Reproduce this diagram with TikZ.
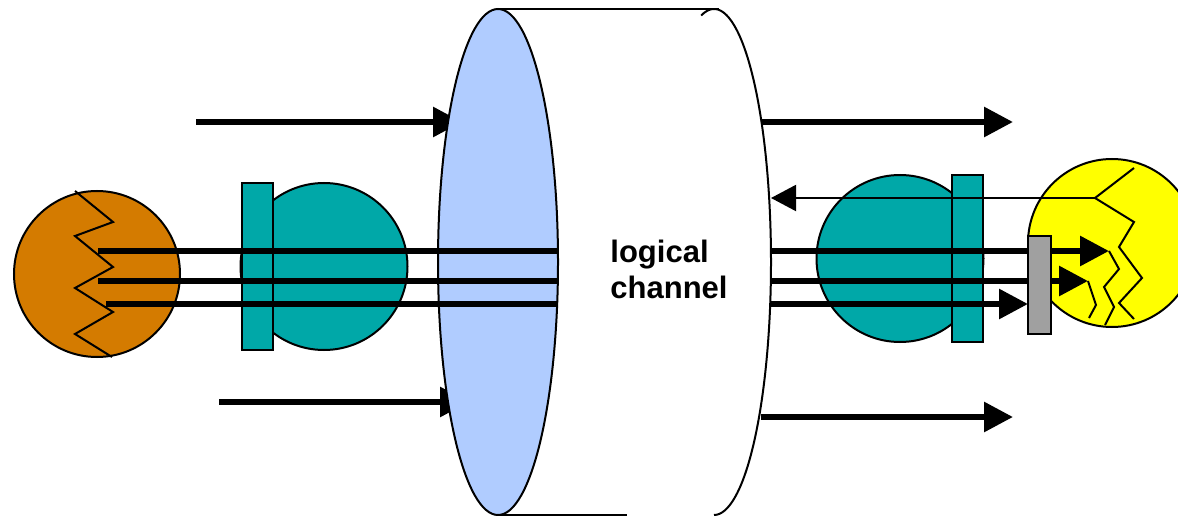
\documentclass[tikz,border=0pt]{standalone}
\usepackage{fontspec}
\setmainfont{Liberation Sans}
\usetikzlibrary{arrows.meta,shapes.geometric}
\definecolor{rust}{RGB}{212,123,0}
\definecolor{tealc}{RGB}{0,168,168}
\definecolor{lensblue}{RGB}{176,204,255}
\definecolor{plate}{RGB}{160,160,160}
\definecolor{bulb}{RGB}{255,255,0}

\begin{document}
\begin{tikzpicture}[x=1pt,y=-1pt,line join=miter,
  outline/.style={draw=black,line width=2pt},
  disc/.style={outline,circle,inner sep=0pt,minimum size=#1},
  bar/.style n args={2}{outline,rectangle,inner sep=0pt,minimum width=#1,minimum height=#2},
  beam/.style={line width=6pt},
  flow/.style={line width=6pt,-{Triangle[length=29pt,width=29pt]}},
  ret/.style={line width=2pt,-{Triangle[length=25pt,width=26pt]}},
  bolt/.style={line width=2pt}]
\useasboundingbox (0,0) rectangle (1178,516);
\clip (0,0) rectangle (1178,516);

% incoming arrows, partly hidden by the lens
\coordinate (inA) at (196,122);  \coordinate (inAend) at (462,122);
\coordinate (inB) at (219,402);  \coordinate (inBend) at (469,402);
\draw[flow] (inA) -- (inAend);
\draw[flow] (inB) -- (inBend);

% cylinder body of the channel
\coordinate (topL) at (498,9);   \coordinate (topR) at (719,9);
\coordinate (botL) at (498,515); \coordinate (botR) at (627,515);
\draw[outline] (topL) -- (topR);
\draw[outline] (botL) -- (botR);
\draw[outline] (714,262) ++(-103:57 and 253)
  arc[start angle=-103,end angle=90,x radius=57,y radius=253];

% front face of the channel
\node[outline,ellipse,fill=lensblue,inner sep=0pt,minimum width=120pt,minimum height=506pt] (lens) at (498,262) {};

% sender
\node[disc=166pt,fill=rust] (src) at (97,274) {};
\draw[bolt] (75,191) -- (113,222) -- (75,236) -- (113,267) -- (75,288)
  -- (113,312) -- (75,334) -- (112,357);
\node[disc=167pt,fill=tealc] (encBall) at (324,266.5) {};
\node[bar={31pt}{167pt},fill=tealc] (encBar) at (257.5,266.5) {};

% three streams into the channel
\coordinate (s1) at (98,251);  \coordinate (e1) at (558,251);
\coordinate (s2) at (98,281);  \coordinate (e2) at (558,281);
\coordinate (s3) at (106,304); \coordinate (e3) at (558,304);
\draw[beam] (s1) -- (e1);
\draw[beam] (s2) -- (e2);
\draw[beam] (s3) -- (e3);

% receiver
\node[disc=167pt,fill=tealc] (decBall) at (900,258.5) {};
\node[bar={31pt}{167pt},fill=tealc] (decBar) at (967.5,258.5) {};
\node[disc=168pt,fill=bulb] (sink) at (1112,243) {};
\coordinate (fork) at (1095,198);
\draw[bolt] (1134,168) -- (fork) -- (1134,222) -- (1119,247) -- (1142,278)
  -- (1119,303) -- (1134,319);
\coordinate (t1) at (1109,251);
\coordinate (t2) at (1088,281);
\coordinate (t3) at (1028,304);
\draw[bolt] (t1) -- (1119,269) -- (1104,287) -- (1114,307) -- (1105,325);
\draw[bolt] (t2) -- (1096,305) -- (1089,318);

% three streams out of the channel
\coordinate (r1) at (771,251);
\coordinate (r2) at (771,281);
\coordinate (r3) at (771,304);
\draw[flow] (r1) -- (t1);
\draw[flow] (r2) -- (t2);
\draw[flow] (r3) -- (t3);
\coordinate (back) at (771,198);
\draw[ret] (fork) -- (back);
\node[bar={23pt}{98pt},fill=plate] (stop) at (1039.5,285) {};

% outgoing arrows
\coordinate (outA) at (761,122); \coordinate (outAend) at (1013,122);
\coordinate (outB) at (761,417); \coordinate (outBend) at (1013,417);
\draw[flow] (outA) -- (outAend);
\draw[flow] (outB) -- (outBend);

\node[font=\bfseries\fontsize{31}{36}\selectfont,align=left,inner sep=0pt] (label) at (669,269) {logical\\channel};
\end{tikzpicture}
\end{document}
